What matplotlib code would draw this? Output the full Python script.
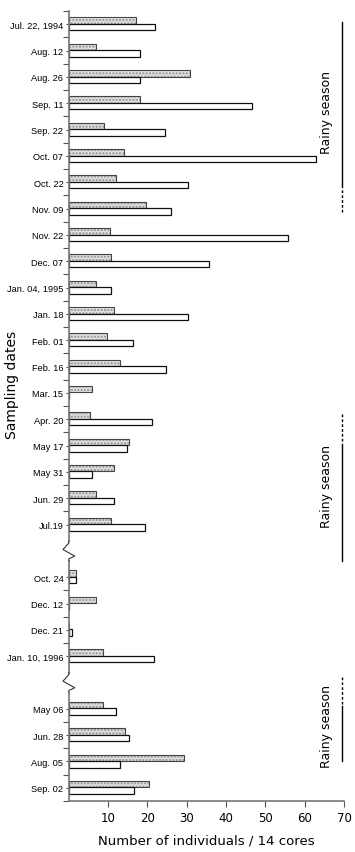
import numpy as np
import matplotlib.pyplot as plt

# sampling dates, top to bottom
dates = ["Jul. 22, 1994", "Aug. 12", "Aug. 26", "Sep. 11", "Sep. 22", "Oct. 07",
         "Oct. 22", "Nov. 09", "Nov. 22", "Dec. 07", "Jan. 04, 1995", "Jan. 18",
         "Feb. 01", "Feb. 16", "Mar. 15", "Apr. 20", "May 17", "May 31", "Jun. 29",
         "Jul.19", "Oct. 24", "Dec. 12", "Dec. 21", "Jan. 10, 1996",
         "May 06", "Jun. 28", "Aug. 05", "Sep. 02"]
# slot of each date on the axis (gaps at the two axis breaks)
slots = list(range(20)) + [21, 22, 23, 24] + [26, 27, 28, 29]
breaks = [20, 25]

# dotted (grey) bars and open (white) bars
grey = [17.0, 7.0, 30.8, 18.1, 8.9, 14.1, 12.1, 19.6, 10.4, 10.7, 7.0, 11.5,
        9.8, 13.1, 6.0, 5.3, 15.3, 11.5, 7.0, 10.7, 1.8, 7.0, 0.0, 8.6,
        8.6, 14.2, 29.3, 20.4]
white = [21.9, 18.1, 18.1, 46.5, 24.4, 62.8, 30.4, 26.1, 55.8, 35.7, 10.7, 30.4,
         16.2, 24.6, 0.0, 21.2, 14.7, 6.0, 11.5, 19.3, 1.8, 0.0, 0.9, 21.7,
         12.1, 15.3, 13.1, 16.5]

xticks = [10, 20, 30, 40, 50, 60, 70]

# rainy season markers: (solid start, solid end, dashed start, dashed end, text y)
rainy = [(-0.1, 6.1, 6.1, 7.2, 3.3),
         (16.0, 20.4, 14.8, 16.0, 17.5),
         (25.9, 28.0, 24.8, 25.9, 26.65)]

lab_font = ['Liberation Sans Narrow', 'Liberation Sans', 'DejaVu Sans']

fig = plt.figure(figsize=(3.55, 8.53), dpi=100)
ax = fig.add_axes([0.194, 0.0598, 0.775, 0.926])

y = np.array(slots, dtype=float)
h = 0.25
# grey dotted fill, drawn in two layers so the dots can be lighter than the outline
ax.barh(y - 0.14, grey, height=h, color='#e0e0e0', edgecolor='#8f8f8f',
        hatch='.....', linewidth=0)
ax.barh(y - 0.14, grey, height=h, color='none', edgecolor='#444444', linewidth=0.8)
ax.barh(y + 0.11, white, height=h, color='white', edgecolor='#111111', linewidth=0.9)

ax.set_xlim(0, 70)
ax.set_ylim(29.45, -0.5)

ax.set_yticks(slots)
ax.set_yticklabels(dates, family=lab_font, fontsize=6.7)
ax.set_yticks([s + 0.5 for s in range(-1, 30) if s not in breaks and s + 1 not in breaks],
              minor=True)
ax.tick_params(axis='y', which='major', length=2, width=0.8, color='#555555', pad=2)
ax.tick_params(axis='y', which='minor', length=4, width=0.8, color='#555555')

ax.set_xticks(xticks)
ax.set_xticklabels([str(t) for t in xticks], fontsize=8.5)
ax.tick_params(axis='x', length=4, width=0.8, color='#555555', pad=3)

for s in ['top', 'right', 'left']:
    ax.spines[s].set_visible(False)
ax.spines['bottom'].set_color('#777777')
ax.spines['bottom'].set_linewidth(1.2)

# left axis line with zigzag breaks
segs = [(-0.5, 19.62), (20.38, 24.62), (25.38, 29.45)]
for a, b in segs:
    ax.plot([0, 0], [a, b], color='#777777', lw=1.2, clip_on=False, zorder=3)
for b in breaks:
    ax.plot([0, 0, -1.5, 1.5, 0, 0], [b - 0.38, b - 0.3, b - 0.05, b + 0.2, b + 0.3, b + 0.38],
            color='#333333', lw=0.8, clip_on=False, zorder=3)

# rainy season brackets
xr = 69.6
for s0, s1, d0, d1, ty in rainy:
    ax.plot([xr, xr], [s0, s1], color='black', lw=1.0, clip_on=False)
    ax.plot([xr, xr], [d0, d1], color='black', lw=1.0, dashes=(2, 1.5), clip_on=False)
    ax.text(65.6, ty, "Rainy season", rotation=90, ha='center', va='center', fontsize=9)

ax.set_xlabel("Number of individuals / 14 cores", fontsize=9.5, labelpad=7)
fig.text(12 / 355, 1 - 385 / 853, "Sampling dates", rotation=90, ha='center',
         va='center', fontsize=10)

fig.savefig("out.png", dpi=100)
